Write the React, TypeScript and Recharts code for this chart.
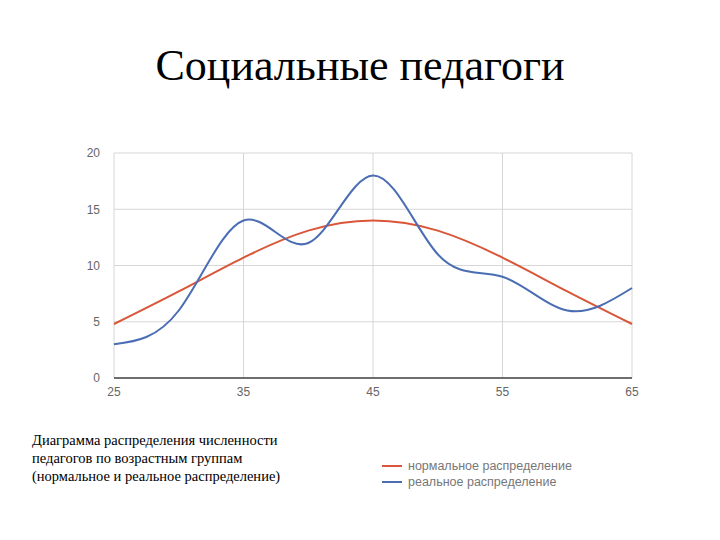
import React from "react";
import { CartesianGrid, Line, LineChart, XAxis, YAxis } from "recharts";

const ages = [25, 30, 35, 40, 45, 50, 55, 60, 65];
const normalValues = [4.8, 7.7, 10.7, 13.1, 14, 13.1, 10.7, 7.7, 4.8];
const realValues = [3, 6, 14, 12, 18, 11, 9, 6, 8];
const xTicks = [25, 35, 45, 55, 65];
const yTicks = [0, 5, 10, 15, 20];

const data = ages.map((age, i) => ({
  age,
  normal: normalValues[i],
  real: realValues[i],
}));

const RED = "#d95638";
const BLUE = "#4a6db3";

const serif = '"Liberation Serif", "DejaVu Serif", serif';
const sans = '"Liberation Sans", Arial, sans-serif';

export default function App() {
  return (
    <div
      style={{
        position: "absolute",
        left: 0,
        top: 0,
        width: 720,
        height: 540,
        background: "#fff",
        overflow: "hidden",
      }}
    >
      <div
        style={{
          position: "absolute",
          top: 40,
          width: 720,
          textAlign: "center",
          fontFamily: serif,
          fontSize: 44,
          color: "#000",
        }}
      >
        Социальные педагоги
      </div>

      <div style={{ position: "absolute", left: 0, top: 0 }}>
        <LineChart
          width={720}
          height={400}
          data={data}
          margin={{ top: 153, right: 88, bottom: 8, left: 84 }}
        >
          <CartesianGrid stroke="#d6d6d6" strokeWidth={1} />
          <XAxis
            dataKey="age"
            type="number"
            domain={[25, 65]}
            ticks={xTicks}
            height={14}
            axisLine={{ stroke: "#444", strokeWidth: 1.5 }}
            tickLine={false}
            tick={{ fill: "#666", fontSize: 12, fontFamily: sans }}
            tickMargin={3}
          />
          <YAxis
            type="number"
            domain={[0, 20]}
            ticks={yTicks}
            width={30}
            axisLine={false}
            tickLine={false}
            tick={{ fill: "#666", fontSize: 12, fontFamily: sans }}
            tickMargin={8}
          />
          <Line
            dataKey="normal"
            type="natural"
            stroke={RED}
            strokeWidth={2}
            dot={false}
            isAnimationActive={false}
          />
          <Line
            dataKey="real"
            type="natural"
            stroke={BLUE}
            strokeWidth={2}
            dot={false}
            isAnimationActive={false}
          />
        </LineChart>
      </div>

      <div
        style={{
          position: "absolute",
          left: 32,
          top: 431,
          fontFamily: serif,
          fontSize: 14.5,
          lineHeight: "18px",
          color: "#000",
        }}
      >
        Диаграмма распределения численности
        <br />
        педагогов по возрастным группам
        <br />
        (нормальное и реальное распределение)
      </div>

      <div
        style={{
          position: "absolute",
          left: 382,
          top: 458,
          fontFamily: sans,
          fontSize: 12.5,
          color: "#777",
          lineHeight: "16px",
        }}
      >
        {[
          { label: "нормальное распределение", color: RED },
          { label: "реальное распределение", color: BLUE },
        ].map((item) => (
          <div key={item.label} style={{ display: "flex", alignItems: "center" }}>
            <span
              style={{
                display: "inline-block",
                width: 20,
                height: 2,
                background: item.color,
                marginRight: 6,
              }}
            />
            {item.label}
          </div>
        ))}
      </div>
    </div>
  );
}
